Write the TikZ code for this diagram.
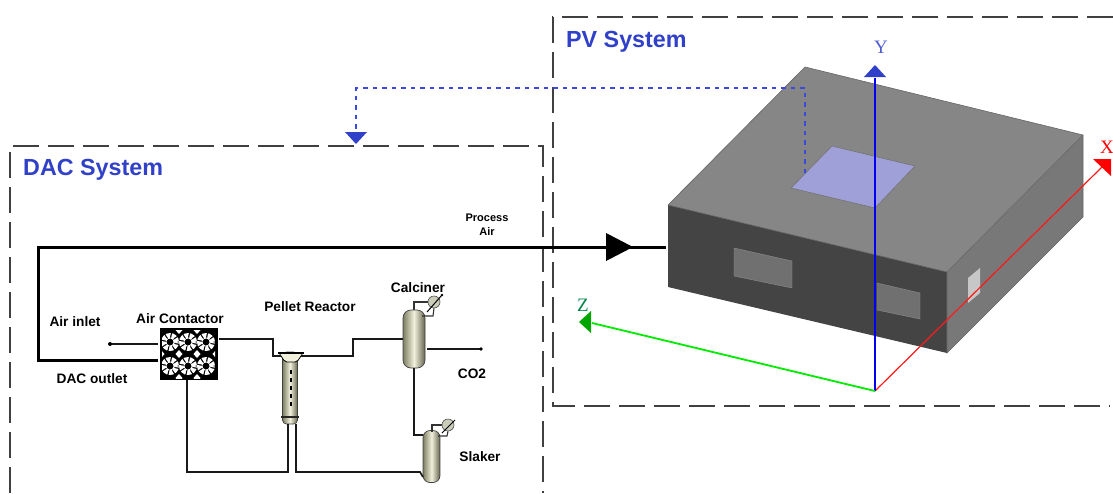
\documentclass[tikz,border=0pt]{standalone}
\usepackage{fontspec}
\setmainfont{Liberation Sans}
\newfontfamily\axisfont{Liberation Serif}
\usetikzlibrary{calc}
\definecolor{sysblue}{HTML}{3040C8}
\definecolor{linkblue}{HTML}{3A4AE0}
\definecolor{topgrey}{HTML}{868686}
\definecolor{frontgrey}{HTML}{444444}
\definecolor{sidegrey}{HTML}{787878}
\definecolor{panelblue}{HTML}{A0A0D8}
\definecolor{vesA}{HTML}{7E7E62}
\definecolor{vesB}{HTML}{F0F0DC}
\tikzset{
  frameline/.style={draw=black!75,line width=1.3pt,dash pattern=on 26pt off 9pt},
  systitle/.style={font=\bfseries\fontsize{23.3}{25}\selectfont,text=sysblue,inner sep=0pt},
  proclabel/.style={font=\bfseries\fontsize{13.7}{15}\selectfont,text=black,inner sep=0pt,align=center},
  smalllabel/.style={font=\bfseries\fontsize{11}{14}\selectfont,text=black,inner sep=0pt,align=center},
  axislabel/.style={font=\axisfont\fontsize{19}{21}\selectfont,inner sep=0pt},
  mainflow/.style={draw=black,line width=3pt},
  pipe/.style={draw=black!90,line width=1.7pt},
  thinpipe/.style={draw=black!80,line width=1.1pt},
  vessel/.style={draw=black!75,line width=.7pt,rounded corners=7pt,left color=vesA,right color=vesA!80!black,middle color=vesB,inner sep=0pt,outer sep=0pt,minimum width=#1},
  infolink/.style={draw=linkblue,line width=1.6pt,dash pattern=on 4.5pt off 5pt},
}
\begin{document}
\begin{tikzpicture}[x=1pt,y=-1pt]
\useasboundingbox (0,0) rectangle (1113,493);
% ---- frames
\draw[frameline] (1113,17) -- (553,17) -- (553,406) -- (1110,406);
\draw[frameline] (10,493) -- (10,146) -- (543,146) -- (543,493);
\node[systitle,anchor=west] (pvtitle) at (566,42) {PV System};
\node[systitle,anchor=west] (dactitle) at (23,170) {DAC System};
% ---- building
\coordinate (tb) at (805,67);
\coordinate (tr) at (1083,135);
\coordinate (tl) at (668,205);
\coordinate (tf) at (947,272);
\coordinate (bl) at (668,287);
\coordinate (bf) at (947,353);
\coordinate (br) at (1083,217);
\fill[topgrey] (tb) -- (tr) -- (tf) -- (tl) -- cycle;
\fill[frontgrey] (tl) -- (tf) -- (bf) -- (bl) -- cycle;
\fill[sidegrey] (tf) -- (tr) -- (br) -- (bf) -- cycle;
\draw[black!60,line width=.6pt] (tl) -- (tb) -- (tr) -- (tf);
\draw[black!60,line width=.6pt] (tr) -- (br) -- (bf) -- (tf);
\draw[black!60,line width=.6pt] (tl) -- (tf);
\fill[panelblue,draw=black!55,line width=.6pt] (832,146) -- (915,166) -- (875,208) -- (791,188) -- cycle;
\fill[black!56!white,draw=black!45,line width=.4pt] (734,248) -- (792,261) -- (792,288) -- (734,276) -- cycle;
\fill[black!56!white,draw=black!45,line width=.4pt] (877,283) -- (920,293) -- (920,319) -- (877,310) -- cycle;
\fill[black!22] (968,278) -- (980,268) -- (980,293) -- (968,303) -- cycle;
% ---- info link
\coordinate (infoA) at (805,173);
\coordinate (infoB) at (805,88);
\coordinate (infoC) at (356,88);
\coordinate (infoD) at (356,133);
\draw[infolink] (infoA) -- (infoB) -- (infoC) -- (infoD);
\fill[sysblue] (345,132) -- (367,132) -- (356,144) -- cycle;
% ---- axes
\coordinate (origin) at (875,391);
\coordinate (xend) at (1103,166);
\coordinate (yend) at (875,78);
\coordinate (zend) at (592,323);
\draw[red!90!white,line width=1.2pt] (origin) -- (xend);
\draw[blue!95!black,line width=1.3pt] (origin) -- (yend);
\draw[green!92!black,line width=1.8pt] (origin) -- (zend);
\fill[red] (1093,159) -- (1111,159) -- (1111,176) -- cycle;
\fill[sysblue] (864,77) -- (886,77) -- (875,65) -- cycle;
\fill[green!65!black] (591,311) -- (591,333) -- (579,322) -- cycle;
\node[axislabel,text=red] (xlab) at (1107,147) {X};
\node[axislabel,text=sysblue!85] (ylab) at (881,47) {Y};
\node[axislabel,text=green!65!blue!80!black] (zlab) at (583,305) {Z};
% ---- process equipment
\node[fill=black,inner sep=0pt,outer sep=0pt,minimum width=58pt,minimum height=52pt] (contactor) at (188.5,354) {};
\begin{scope}
\clip (162,330) rectangle (215,378);
\foreach \cx/\cy in {170/342,188/342,206/342,170/366,188/366,206/366}{
  \draw[white,line width=5.5pt,dash pattern=on 3.4pt off 1.3pt] (\cx,\cy) circle[radius=6.2pt];
}
\foreach \cx/\cy in {179/354,197/354,161/354,216/354,179/330,197/330,179/378,197/378}{
  \fill[white] (\cx-3.5,\cy) -- (\cx,\cy-4) -- (\cx+3.5,\cy) -- (\cx,\cy+4) -- cycle;
}
\end{scope}
\node[vessel=15pt,minimum height=72pt,rounded corners=4pt] (reactor) at (290,388) {};
\fill[vesB,draw=black,line width=.8pt,rounded corners=2pt] (279,353) -- (303,353) -- (297,362) -- (285,362) -- cycle;
\draw[black,line width=1.8pt] (278,353) -- (304,353);
\draw[black!85,line width=1.6pt] (281,417) -- (299,417);
\draw[black,line width=1.8pt,dash pattern=on 3.5pt off 4.5pt] (291,370) -- (291,408);
\node[vessel=22pt,minimum height=58pt,rounded corners=8pt] (calciner) at (414,339) {};
\node[vessel=17pt,minimum height=52pt,rounded corners=7pt] (slaker) at (431.5,456.5) {};
% condensers
\node[circle,draw=black!70,line width=.6pt,fill=vesB!85!black,minimum size=12pt,inner sep=0pt] (condA) at (434,302) {};
\node[circle,draw=black!70,line width=.6pt,fill=vesB!85!black,minimum size=12pt,inner sep=0pt] (condB) at (448,425) {};
\draw[thinpipe] (condA.west) -- (414,302) -- (414,310);
\draw[thinpipe] (condA.south) -- (433,316) -- (422,316);
\draw[thinpipe] (condB.west) -- (432,425) -- (432,432);
\draw[thinpipe] (condB.south) -- (447,436) -- (438,436);
\draw[black,line width=1pt] (427,312) -- (442,295);
\fill[black] (442,295) circle[radius=1.3pt];
\draw[black,line width=1pt] (442,433) -- (455,420);
% ---- main flow
\coordinate (houseport) at (666,247);
\coordinate (bendA) at (38,247);
\coordinate (bendB) at (38,360);
\coordinate (contin) at (158,360);
\draw[mainflow] (houseport) -- (bendA) -- (bendB) -- (contin);
\fill[black] (606,233) -- (633,247) -- (606,261) -- cycle;
% ---- pipes
\coordinate (airout) at (110,344);
\coordinate (co2out) at (481,349);
\draw[pipe] (158,344) -- (airout);
\fill[black] (airout) circle[radius=2pt];
\draw[pipe] (219,339) -- (273,339) -- (273,356) -- (281,356);
\draw[pipe] (301,356) -- (353,356) -- (353,339) -- (403,339);
\draw[pipe] (427,349) -- (co2out);
\fill[black] (co2out) circle[radius=1.8pt];
\draw[pipe] (414,368) -- (414,435) -- (423,435);
\draw[pipe] (187,380) -- (187,472) -- (288,472) -- (288,424);
\draw[pipe] (296,424) -- (296,472) -- (420,472) -- (423,477);
% ---- labels
\node[smalllabel] (proc) at (487,225) {Process\\Air};
\node[proclabel] (lblinlet) at (75,322) {Air inlet};
\node[proclabel] (lblcont) at (180,319) {Air Contactor};
\node[proclabel] (lbloutlet) at (92,379) {DAC outlet};
\node[proclabel] (lblpellet) at (310,307) {Pellet Reactor};
\node[proclabel] (lblcalc) at (418,288) {Calciner};
\node[proclabel] (lblco2) at (472,374) {CO2};
\node[proclabel] (lblslak) at (480,457) {Slaker};
\end{tikzpicture}
\end{document}
